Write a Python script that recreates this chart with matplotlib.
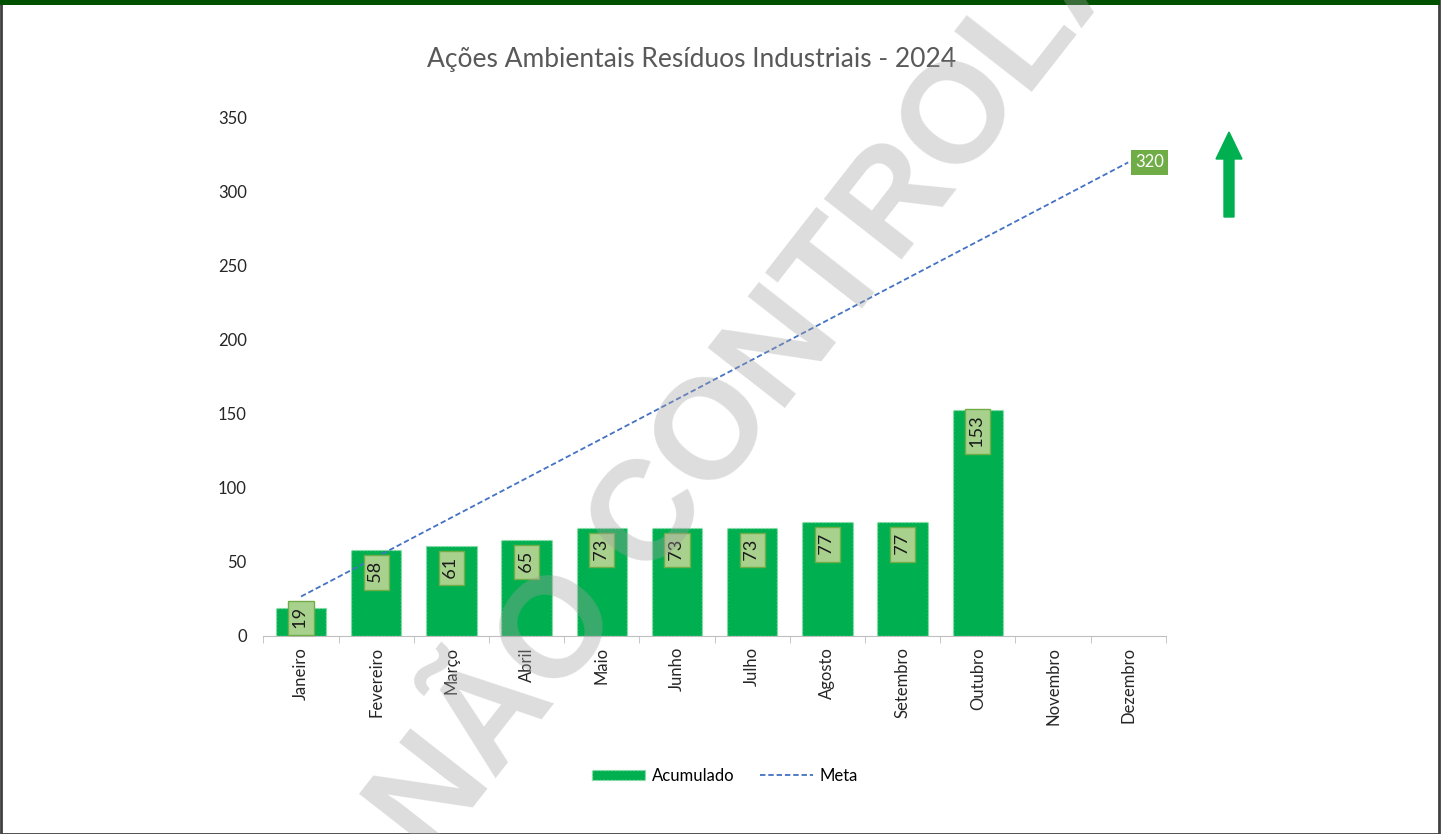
import matplotlib
matplotlib.use('Agg')
import matplotlib.pyplot as plt
from matplotlib.patches import Rectangle, FancyArrow
from matplotlib.lines import Line2D

meses = ['Janeiro', 'Fevereiro', 'Março', 'Abril', 'Maio', 'Junho', 'Julho',
         'Agosto', 'Setembro', 'Outubro', 'Novembro', 'Dezembro']
acumulado = [19, 58, 61, 65, 73, 73, 73, 77, 77, 153]
meta = [26.67, 53.33, 80, 106.67, 133.33, 160, 186.67, 213.33, 240, 266.67, 293.33, 320]
yticks = [0, 50, 100, 150, 200, 250, 300, 350]

plt.rcParams['font.family'] = ['Lato', 'DejaVu Sans']

verde = '#00B050'
fig = plt.figure(figsize=(14.44, 8.34), dpi=100)
ax = fig.add_axes([263.4 / 1444, 198 / 834, 902.4 / 1444, 518 / 834])

x = list(range(len(meses)))
ax.bar(x[:len(acumulado)], acumulado, width=0.67, color=verde,
       edgecolor='#8FE0A8', linestyle=':', linewidth=1, zorder=2)

ax.plot(x, meta, color='#4472C4', linestyle='--', dashes=(3, 1.6), linewidth=1.3, zorder=3)

# rotulos dos dados
for i, v in enumerate(acumulado):
    yl = max(v - 15, 12)
    ax.text(i, yl, '\u2009' + str(v) + '\u2009', rotation=90, ha='center', va='center', fontsize=13,
            color='#1a1a1a', zorder=4,
            bbox=dict(boxstyle='square,pad=0.25', fc='#A9D18E', ec='#70AD47', lw=1))

ax.annotate(str(int(meta[-1])), (x[-1], meta[-1]), xytext=(5, 0), textcoords='offset points',
            ha='left', va='center', fontsize=12, color='white', zorder=4,
            bbox=dict(boxstyle='square,pad=0.25', fc='#70AD47', ec='none'))

ax.set_xlim(-0.5, 11.5)
ax.set_ylim(0, 350)
ax.set_yticks(yticks)
ax.set_xticks(x)
ax.set_xticklabels(meses, rotation=90, fontsize=12, color='#262626')
ax.tick_params(axis='y', length=0, labelsize=12, labelcolor='#262626', pad=12)
ax.tick_params(axis='x', length=0, pad=8)
ax.set_xticks([i + 0.5 for i in range(-1, 12)], minor=True)
ax.tick_params(axis='x', which='minor', length=5, color='#BFBFBF', direction='out')
for s in ['top', 'right', 'left']:
    ax.spines[s].set_visible(False)
ax.spines['bottom'].set_color('#BFBFBF')

fig.text(0.5 * (430 + 953) / 1444, 1 - 60 / 834, 'Ações Ambientais Resíduos Industriais - 2024',
         ha='center', va='center', fontsize=19, color='#595959')

handles = [Rectangle((0, 0), 1, 1, fc=verde, ec='#8FE0A8', ls=':', lw=1),
           Line2D([], [], color='#4472C4', linestyle='--', dashes=(3, 1.6), lw=1.3)]
fig.legend(handles, ['Acumulado', 'Meta'], loc='center', bbox_to_anchor=(725 / 1444, 1 - 776 / 834),
           ncol=2, frameon=False, fontsize=12, handlelength=3.2, handleheight=0.6,
           handletextpad=0.4, columnspacing=1.5)

# seta verde
fig.patches.append(FancyArrow(1229 / 1444, 1 - 217 / 834, 0, 85 / 834, width=10 / 1444,
                              head_width=26 / 1444, head_length=27 / 834,
                              length_includes_head=True, color=verde,
                              transform=fig.transFigure, figure=fig))

# marca d'agua
fig.text(672 / 1444, 1 - 492 / 834, 'CÓPIA NÃO CONTROLADA', rotation=52, ha='center', va='center',
         fontsize=102, fontweight='bold', family='Liberation Sans', color='#A0A0A0', alpha=0.36, zorder=10)

# moldura
fig.patches.append(Rectangle((1 / 1444, 0), 1438 / 1444, 1, transform=fig.transFigure,
                             fc='none', ec='#404040', lw=2, figure=fig))
fig.patches.append(Rectangle((0, 1 - 5 / 834), 1440 / 1444, 5 / 834, transform=fig.transFigure,
                             fc='#005000', ec='none', figure=fig))

fig.savefig('out.png', dpi=100)
